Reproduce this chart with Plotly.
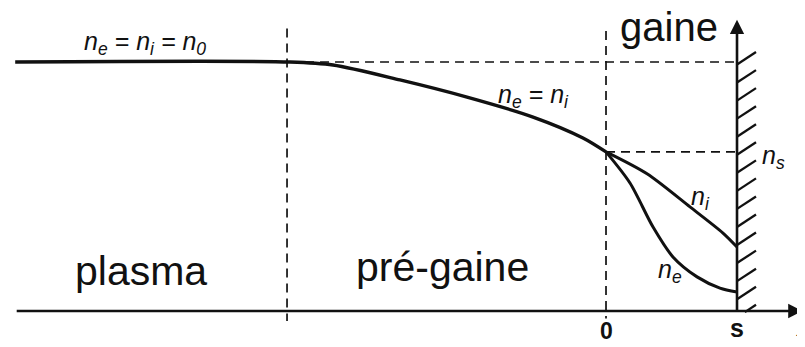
import plotly.graph_objects as go

# positions: x = 0 at sheath edge, x = 1 at wall (s); densities normalised to n0
x_start, x_presheath, x_sheath, x_wall, x_end = -4.51, -2.435, 0.0, 1.0, 1.50
n0 = 1.0
ns = 0.639

presheath_x = [-4.51, -2.412, -2.084, -1.573, -1.061, -0.557, -0.176, 0.0]
presheath_n = [1.0, 1.0, 0.988, 0.928, 0.859, 0.779, 0.695, 0.639]

ni_x = [0.0, 0.313, 0.641, 0.893, 1.0]
ni_n = [0.639, 0.551, 0.418, 0.313, 0.257]

ne_x = [0.0, 0.183, 0.359, 0.511, 0.695, 0.870, 1.0]
ne_n = [0.639, 0.514, 0.337, 0.217, 0.137, 0.092, 0.076]

FONT = 'Liberation Sans, Arial, sans-serif'
INK = '#111111'

fig = go.Figure()


def curve(xs, ys, width=3.4):
    fig.add_trace(go.Scatter(x=xs, y=ys, mode='lines',
                             line=dict(color=INK, width=width, shape='spline', smoothing=0.8),
                             hoverinfo='skip', showlegend=False))


def dashed(xs, ys):
    fig.add_trace(go.Scatter(x=xs, y=ys, mode='lines', line=dict(color=INK, width=1.7, dash='9px,6px'),
                             hoverinfo='skip', showlegend=False))


# reference dashes
dashed([x_presheath, x_presheath], [1.135, -0.04])
dashed([x_sheath, x_sheath], [1.125, -0.03])
dashed([presheath_x[1], x_wall], [n0, n0])
dashed([x_sheath, x_wall], [ns, ns])

curve(presheath_x, presheath_n)
curve(ni_x, ni_n, 3.0)
curve(ne_x, ne_n, 3.0)

# wall hatching
hx, hy = [], []
k = 1.04
while k > 0.02:
    x0 = x_wall if k > 0.06 else x_wall + 0.06
    hx += [x0, x_wall + 0.145, None]
    hy += [k - 0.05 + (x0 - x_wall) * 0.34, k, None]
    k -= 0.0725
fig.add_trace(go.Scatter(x=hx, y=hy, mode='lines', line=dict(color=INK, width=2.3), hoverinfo='skip',
                         showlegend=False))

# axes with arrows
fig.add_annotation(x=x_end, y=0, ax=x_start, ay=0, xref='x', yref='y', axref='x', ayref='y',
                   showarrow=True, arrowhead=2, arrowsize=1.1, arrowwidth=2.6, arrowcolor=INK, text='')
fig.add_annotation(x=x_wall, y=1.17, ax=x_wall, ay=-0.01, xref='x', yref='y', axref='x', ayref='y',
                   showarrow=True, arrowhead=2, arrowsize=1.1, arrowwidth=2.6, arrowcolor=INK, text='')


def label(x, y, text, size, italic=False):
    fig.add_annotation(x=x, y=y, xref='x', yref='y', text=f'<i>{text}</i>' if italic else text,
                       showarrow=False, font=dict(family=FONT, size=size, color=INK))


label(-3.52, 1.078, 'n<sub>e</sub> = n<sub>i</sub> = n<sub>0</sub>', 25, italic=True)
label(-0.55, 0.865, 'n<sub>e</sub> = n<sub>i</sub>', 25, italic=True)
label(0.72, 0.455, 'n<sub>i</sub>', 25, italic=True)
label(0.49, 0.16, 'n<sub>e</sub>', 25, italic=True)
label(1.275, 0.62, 'n<sub>s</sub>', 25, italic=True)
label(-3.55, 0.16, 'plasma', 41)
label(-1.25, 0.175, 'pré-gaine', 41)
label(0.477, 1.14, 'gaine', 40)
label(x_sheath, -0.08, '<b>0</b>', 23)
label(x_wall, -0.07, '<b>s</b>', 25)
label(1.505, -0.065, '<i>x</i>', 25)

# the page puts the plot 8px in from the top-left corner
fig.update_layout(width=797, height=339, margin=dict(l=0, r=0, t=0, b=0),
                  plot_bgcolor='white', paper_bgcolor='white',
                  xaxis=dict(range=[-4.565, 1.519], visible=False, fixedrange=True),
                  yaxis=dict(range=[-0.1446, 1.2169], visible=False, fixedrange=True))

fig.write_html("out.html")
